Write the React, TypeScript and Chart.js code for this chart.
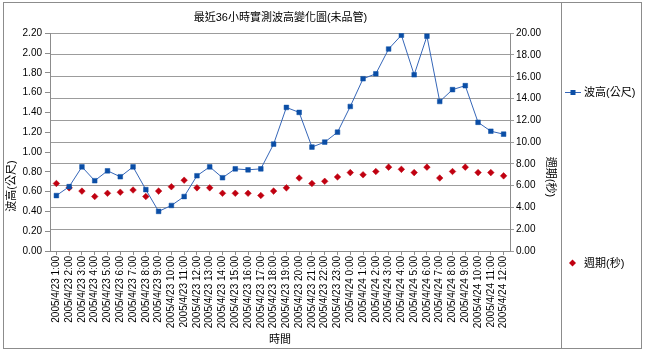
import React, { useEffect, useRef } from "react";
import { Chart, registerables } from "chart.js";

Chart.register(...registerables);

const chartTitle = "最近36小時實測波高變化圖(未品管)";
const leftAxisTitle = "波高(公尺)";
const rightAxisTitle = "週期(秒)";
const xAxisTitle = "時間";
const seriesNames = ["波高(公尺)", "週期(秒)"];

const categories = [
  "2005/4/23 1:00", "2005/4/23 2:00", "2005/4/23 3:00", "2005/4/23 4:00",
  "2005/4/23 5:00", "2005/4/23 6:00", "2005/4/23 7:00", "2005/4/23 8:00",
  "2005/4/23 9:00", "2005/4/23 10:00", "2005/4/23 11:00", "2005/4/23 12:00",
  "2005/4/23 13:00", "2005/4/23 14:00", "2005/4/23 15:00", "2005/4/23 16:00",
  "2005/4/23 17:00", "2005/4/23 18:00", "2005/4/23 19:00", "2005/4/23 20:00",
  "2005/4/23 21:00", "2005/4/23 22:00", "2005/4/23 23:00", "2005/4/24 0:00",
  "2005/4/24 1:00", "2005/4/24 2:00", "2005/4/24 3:00", "2005/4/24 4:00",
  "2005/4/24 5:00", "2005/4/24 6:00", "2005/4/24 7:00", "2005/4/24 8:00",
  "2005/4/24 9:00", "2005/4/24 10:00", "2005/4/24 11:00", "2005/4/24 12:00",
];

const waveHeight = [
  0.56, 0.65, 0.85, 0.71, 0.81, 0.75, 0.85, 0.62, 0.40, 0.46, 0.55, 0.76,
  0.85, 0.74, 0.83, 0.82, 0.83, 1.08, 1.45, 1.40, 1.05, 1.10, 1.20, 1.46,
  1.74, 1.79, 2.04, 2.18, 1.78, 2.17, 1.51, 1.63, 1.67, 1.30, 1.21, 1.18,
];

const period = [
  6.2, 5.8, 5.5, 5.0, 5.3, 5.4, 5.6, 5.0, 5.5, 5.9, 6.5, 5.8,
  5.8, 5.3, 5.3, 5.3, 5.1, 5.5, 5.8, 6.7, 6.2, 6.4, 6.8, 7.2,
  7.0, 7.3, 7.7, 7.5, 7.2, 7.7, 6.7, 7.3, 7.7, 7.2, 7.2, 6.9,
];

const leftTicks = [0, 0.2, 0.4, 0.6, 0.8, 1.0, 1.2, 1.4, 1.6, 1.8, 2.0, 2.2];
const rightTicks = [0, 2, 4, 6, 8, 10, 12, 14, 16, 18, 20];

const FONT = "'Liberation Sans', Arial, 'Noto Sans CJK TC', sans-serif";
const BLUE_LINE = "#3566b8";
const BLUE_PT = "#0b4ea6";
const RED = "#c00010";
const FRAME = "#8c8c8c";
const GRID = "#9c9c9c";

const decorPlugin = {
  id: "decor",
  afterDraw(chart: any) {
    const ctx = chart.ctx as CanvasRenderingContext2D;
    const ca = chart.chartArea;
    ctx.save();
    ctx.strokeStyle = FRAME;
    ctx.lineWidth = 1;
    ctx.strokeRect(3.5, 2.5, 638, 346);
    ctx.beginPath();
    ctx.moveTo(561.5, 2.5);
    ctx.lineTo(561.5, 348.5);
    ctx.stroke();

    ctx.fillStyle = "#000";
    ctx.font = `11px ${FONT}`;
    ctx.textAlign = "center";
    ctx.textBaseline = "middle";
    ctx.save();
    ctx.translate(12, 186);
    ctx.rotate(-Math.PI / 2);
    ctx.fillText(leftAxisTitle, 0, 0);
    ctx.restore();
    ctx.save();
    ctx.translate(550, 177);
    ctx.rotate(Math.PI / 2);
    ctx.fillText(rightAxisTitle, 0, 0);
    ctx.restore();
    ctx.fillText(xAxisTitle, (ca.left + ca.right) / 2, 340);

    ctx.textAlign = "left";
    const y1 = 92;
    ctx.strokeStyle = BLUE_LINE;
    ctx.beginPath();
    ctx.moveTo(565, y1 + 0.5);
    ctx.lineTo(581, y1 + 0.5);
    ctx.stroke();
    ctx.fillStyle = BLUE_PT;
    ctx.fillRect(570.5, y1 - 2, 5, 5);
    ctx.fillStyle = "#000";
    ctx.fillText(seriesNames[0], 584, y1 + 1);

    const y2 = 263;
    ctx.fillStyle = RED;
    ctx.beginPath();
    ctx.moveTo(572.5, y2 - 3.5);
    ctx.lineTo(576, y2);
    ctx.lineTo(572.5, y2 + 3.5);
    ctx.lineTo(569, y2);
    ctx.closePath();
    ctx.fill();
    ctx.fillStyle = "#000";
    ctx.fillText(seriesNames[1], 584, y2 + 1);
    ctx.restore();
  },
};

export default function App() {
  const ref = useRef<HTMLCanvasElement | null>(null);

  useEffect(() => {
    const canvas = ref.current;
    if (!canvas) return;
    const tickFont = { family: FONT, size: 10 };
    const chart = new Chart(canvas, {
      type: "line",
      data: {
        labels: categories,
        datasets: [
          {
            label: seriesNames[0],
            data: waveHeight,
            yAxisID: "y",
            borderColor: BLUE_LINE,
            borderWidth: 1,
            tension: 0,
            pointStyle: "rect",
            pointRadius: 3.3,
            pointBackgroundColor: BLUE_PT,
            pointBorderColor: BLUE_PT,
            pointBorderWidth: 0.5,
            fill: false,
          },
          {
            label: seriesNames[1],
            data: period,
            yAxisID: "y1",
            showLine: false,
            pointStyle: "rectRot",
            pointRadius: 3.3,
            pointBackgroundColor: RED,
            pointBorderColor: RED,
            pointBorderWidth: 0.5,
            borderColor: RED,
          },
        ],
      },
      options: {
        responsive: false,
        animation: false,
        events: [],
        layout: { padding: { left: 0, right: 84, top: 0, bottom: 1 } },
        plugins: {
          legend: { display: false },
          tooltip: { enabled: false },
          title: {
            display: true,
            text: chartTitle,
            color: "#000",
            font: { family: FONT, size: 11, weight: "normal", lineHeight: 1.2 },
            padding: { top: 11, bottom: 9 },
          },
        },
        scales: {
          x: {
            type: "category",
            offset: true,
            grid: {
              offset: false,
              drawOnChartArea: false,
              drawTicks: true,
              tickLength: 4,
              color: FRAME,
            },
            border: { display: true, color: FRAME },
            ticks: {
              autoSkip: false,
              maxRotation: 90,
              minRotation: 90,
              padding: 1,
              color: "#000",
              font: tickFont,
            },
            afterFit(scale: any) {
              scale.height = 100;
            },
          },
          y: {
            type: "linear",
            position: "left",
            min: 0,
            max: 2.2,
            afterBuildTicks(scale: any) {
              scale.ticks = leftTicks.map((v) => ({ value: v }));
            },
            grid: {
              drawOnChartArea: false,
              drawTicks: true,
              tickLength: 5,
              color: FRAME,
            },
            border: { display: true, color: FRAME },
            ticks: {
              padding: 3,
              color: "#000",
              font: tickFont,
              callback: (v: any) => Number(v).toFixed(2),
            },
            afterFit(scale: any) {
              scale.width = 50;
            },
          },
          y1: {
            type: "linear",
            position: "right",
            min: 0,
            max: 20,
            afterBuildTicks(scale: any) {
              scale.ticks = rightTicks.map((v) => ({ value: v }));
            },
            grid: {
              drawOnChartArea: true,
              drawTicks: true,
              tickLength: 4,
              color: GRID,
            },
            border: { display: true, color: FRAME },
            ticks: {
              padding: 2,
              color: "#000",
              font: tickFont,
              callback: (v: any) => Number(v).toFixed(2),
            },
            afterFit(scale: any) {
              scale.width = 51;
            },
          },
        },
      },
      plugins: [decorPlugin],
    });
    return () => chart.destroy();
  }, []);

  return (
    <div style={{ position: "fixed", left: 0, top: 0, width: 645, height: 352, background: "#fff" }}>
      <canvas ref={ref} width={645} height={352} style={{ width: 645, height: 352, display: "block" }} />
    </div>
  );
}
